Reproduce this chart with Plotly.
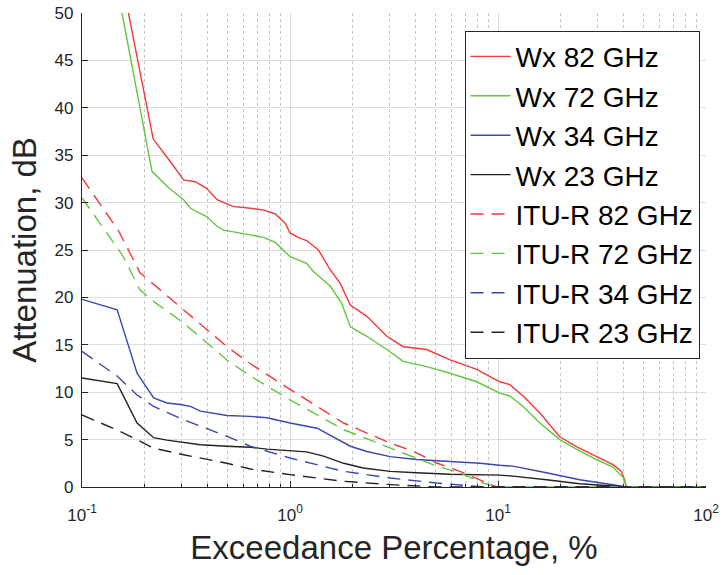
import plotly.graph_objects as go

# ---- data ----
wx82_x = [0.153, 0.167, 0.22, 0.26, 0.308, 0.35, 0.397, 0.446, 0.53, 0.645, 0.75, 0.85, 0.95, 1.0, 1.1, 1.2, 1.37, 1.55, 1.74, 1.95, 2.34, 2.92, 3.5, 4.54, 5.88, 7.9, 10.2, 11.4, 13.2, 15.9, 19.8, 23.8, 29.7, 35.7, 39.2, 40.6, 41.4, 42, 100]
wx82_y = [54.3, 50, 36.7, 34.6, 32.4, 32.2, 31.5, 30.3, 29.6, 29.4, 29.2, 28.8, 27.8, 26.8, 26.3, 26.0, 25.0, 23.0, 21.5, 19.2, 18.0, 15.9, 14.8, 14.5, 13.4, 12.4, 11.1, 10.8, 9.6, 7.8, 5.3, 4.25, 3.2, 2.35, 1.65, 0.77, 0.05, 0, 0]

wx72_x = [0.143, 0.156, 0.217, 0.26, 0.308, 0.332, 0.399, 0.446, 0.48, 0.645, 0.75, 0.85, 0.93, 1.0, 1.2, 1.3, 1.56, 1.77, 1.95, 2.34, 2.92, 3.5, 4.54, 5.88, 7.9, 10.2, 11.4, 13.2, 15.9, 19.8, 23.8, 29.7, 35.7, 40, 41.4, 42, 100]
wx72_y = [54.3, 50, 33.3, 31.6, 30.3, 29.4, 28.5, 27.5, 27.1, 26.6, 26.3, 25.8, 25.0, 24.3, 23.6, 22.7, 21.2, 19.4, 16.9, 15.9, 14.5, 13.25, 12.7, 12.0, 11.1, 9.9, 9.6, 8.5, 6.75, 5.0, 4.0, 2.9, 2.1, 1.0, 0.05, 0, 0]

wx34_x = [0.1, 0.1476, 0.184, 0.221, 0.256, 0.297, 0.332, 0.371, 0.498, 0.645, 0.775, 0.93, 1.0, 1.35, 1.62, 1.95, 2.34, 3.03, 4.06, 5.88, 8.2, 10.2, 11.8, 17.1, 24.7, 35.7, 41.4, 100]
wx34_y = [19.8, 18.7, 12.0, 9.4, 8.86, 8.7, 8.5, 8.0, 7.55, 7.45, 7.3, 6.9, 6.75, 6.2, 5.3, 4.3, 3.75, 3.2, 2.9, 2.7, 2.5, 2.3, 2.2, 1.5, 0.77, 0.24, 0, 0]

wx23_x = [0.1, 0.1476, 0.184, 0.221, 0.256, 0.32, 0.371, 0.498, 0.645, 0.775, 0.93, 1.2, 1.45, 1.81, 2.25, 3.03, 4.06, 5.88, 10.2, 11.8, 17.1, 24.7, 35.7, 41.4, 100]
wx23_y = [11.5, 10.9, 6.75, 5.2, 4.95, 4.65, 4.45, 4.3, 4.2, 4.0, 3.85, 3.7, 3.25, 2.5, 2.0, 1.65, 1.5, 1.35, 1.25, 1.15, 0.77, 0.35, 0.1, 0, 0]

itu82_x = [0.1, 0.15, 0.19, 0.22, 0.308, 0.498, 0.645, 1.0, 1.81, 3.03, 3.92, 5.07, 6.56, 8.5, 9.85, 100]
itu82_y = [32.6, 27.0, 22.6, 21.4, 18.7, 14.8, 13.0, 10.3, 6.75, 4.64, 3.76, 2.53, 1.65, 0.6, 0, 0]

itu72_x = [0.1, 0.156, 0.19, 0.22, 0.308, 0.498, 0.645, 1.0, 1.81, 3.03, 3.92, 5.07, 6.56, 8.5, 9.85, 100]
itu72_y = [30.5, 24.5, 20.8, 19.6, 17.3, 13.4, 11.7, 9.2, 6.05, 4.1, 3.2, 2.2, 1.5, 0.4, 0, 0]

itu34_x = [0.1, 0.1476, 0.184, 0.221, 0.308, 0.498, 0.645, 1.0, 1.81, 3.03, 5.07, 8.5, 100]
itu34_y = [14.3, 11.7, 9.7, 8.5, 7.1, 5.34, 4.3, 3.06, 1.65, 0.95, 0.42, 0.0, 0]

itu23_x = [0.1, 0.1476, 0.184, 0.221, 0.308, 0.498, 0.645, 1.0, 1.81, 3.03, 5.07, 100]
itu23_y = [7.6, 6.0, 5.0, 4.1, 3.4, 2.5, 1.9, 1.3, 0.6, 0.25, 0.0, 0]

x_tickvals = [0.1, 1, 10, 100]
x_ticktext = ["10<sup>-1</sup>", "10<sup>0</sup>", "10<sup>1</sup>", "10<sup>2</sup>"]
x_minorvals = [m * d for d in (0.1, 1, 10) for m in range(2, 10)]
y_tickvals = [0, 5, 10, 15, 20, 25, 30, 35, 40, 45, 50]

RED = "#f23838"
GREEN = "#62c63e"
BLUE = "#3848b0"
BLACK = "#222222"

series = [
    ("Wx 82 GHz", wx82_x, wx82_y, RED, "solid"),
    ("Wx 72 GHz", wx72_x, wx72_y, GREEN, "solid"),
    ("Wx 34 GHz", wx34_x, wx34_y, BLUE, "solid"),
    ("Wx 23 GHz", wx23_x, wx23_y, BLACK, "solid"),
    ("ITU-R 82 GHz", itu82_x, itu82_y, RED, "13px,8px"),
    ("ITU-R 72 GHz", itu72_x, itu72_y, GREEN, "13px,8px"),
    ("ITU-R 34 GHz", itu34_x, itu34_y, BLUE, "13px,8px"),
    ("ITU-R 23 GHz", itu23_x, itu23_y, BLACK, "13px,8px"),
]

fig = go.Figure()
for i, (name, xs, ys, col, dash) in enumerate(series):
    fig.add_trace(go.Scatter(x=xs, y=ys, mode="lines", name=name,
                             line=dict(color=col, width=1.4, dash=dash)))

FONT = "Liberation Sans, Arial, sans-serif"
AX = "#262626"

fig.update_layout(
    width=722, height=575,
    margin=dict(l=81.5, r=15.5, t=13.3, b=87.7),
    paper_bgcolor="white", plot_bgcolor="white",
    font=dict(family=FONT, color=AX, size=16),
    showlegend=True,
    legend=dict(
        x=0.9896, y=0.9627, xanchor="right", yanchor="top",
        bgcolor="white", bordercolor=AX, borderwidth=1,
        font=dict(family=FONT, size=28, color="black"),
        tracegroupgap=0, itemwidth=40,
    ),
    xaxis=dict(
        type="log", range=[-1, 2], automargin=False,
        tickvals=x_tickvals, ticktext=x_ticktext,
        ticks="inside", ticklen=6, tickcolor=AX, tickwidth=1,
        ticklabelstandoff=12, ticklabeloverflow="allow",
        showline=True, linecolor=AX, linewidth=1.3,
        showgrid=True, gridcolor="#dcdcdc", gridwidth=1,
        zeroline=False,
        tickfont=dict(size=17, color=AX, family=FONT),
        minor=dict(tickmode="array", tickvals=x_minorvals,
                   ticks="inside", ticklen=3, tickcolor=AX,
                   showgrid=True, gridcolor="#c4c4c4", griddash="dot", gridwidth=1),
        title=dict(text="Exceedance Percentage, %", font=dict(size=33, color=AX, family=FONT), standoff=12),
    ),
    yaxis=dict(
        range=[0, 50], tickvals=y_tickvals, automargin=False,
        ticks="inside", ticklen=6, tickcolor=AX, tickwidth=1,
        ticklabelstandoff=4, ticklabeloverflow="allow",
        showline=True, linecolor=AX, linewidth=1.3,
        showgrid=True, gridcolor="#dcdcdc", gridwidth=1,
        zeroline=False,
        tickfont=dict(size=17, color=AX, family=FONT),
        title=dict(text="Attenuation, dB", font=dict(size=33, color=AX, family=FONT), standoff=7),
    ),
)

# remove the browser's default 8px page margin so the figure sits at (0, 0)
fig.write_html("out.html", config={"displayModeBar": False},
               post_script="document.body.style.margin='0';")
